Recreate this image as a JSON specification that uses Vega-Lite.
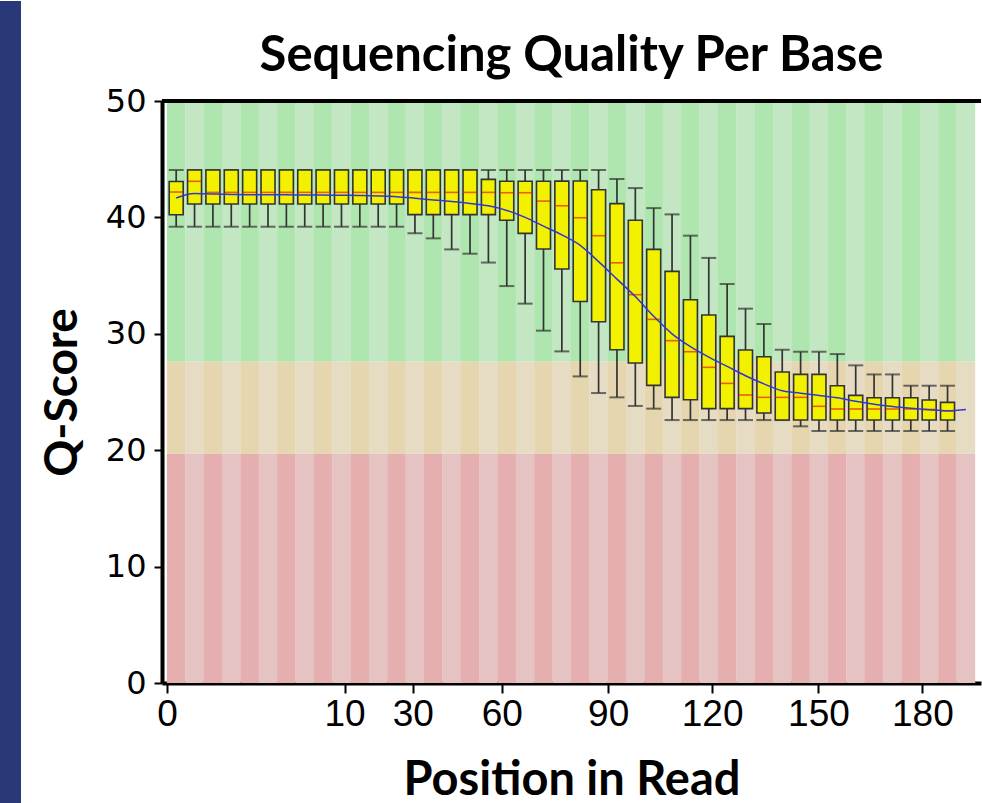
{
  "$schema": "https://vega.github.io/schema/vega-lite/v6.json",
  "padding": 0,
  "background": "white",
  "spacing": 18,
  "config": {"view": {"stroke": null}},
  "datasets": {
    "slots": [
      {"slot":1,"shade":"dark"},{"slot":2,"shade":"light"},{"slot":3,"shade":"dark"},{"slot":4,"shade":"light"},
      {"slot":5,"shade":"dark"},{"slot":6,"shade":"light"},{"slot":7,"shade":"dark"},{"slot":8,"shade":"light"},
      {"slot":9,"shade":"dark"},{"slot":10,"shade":"light"},{"slot":11,"shade":"dark"},{"slot":12,"shade":"light"},
      {"slot":13,"shade":"dark"},{"slot":14,"shade":"light"},{"slot":15,"shade":"dark"},{"slot":16,"shade":"light"},
      {"slot":17,"shade":"dark"},{"slot":18,"shade":"light"},{"slot":19,"shade":"dark"},{"slot":20,"shade":"light"},
      {"slot":21,"shade":"dark"},{"slot":22,"shade":"light"},{"slot":23,"shade":"dark"},{"slot":24,"shade":"light"},
      {"slot":25,"shade":"dark"},{"slot":26,"shade":"light"},{"slot":27,"shade":"dark"},{"slot":28,"shade":"light"},
      {"slot":29,"shade":"dark"},{"slot":30,"shade":"light"},{"slot":31,"shade":"dark"},{"slot":32,"shade":"light"},
      {"slot":33,"shade":"dark"},{"slot":34,"shade":"light"},{"slot":35,"shade":"dark"},{"slot":36,"shade":"light"},
      {"slot":37,"shade":"dark"},{"slot":38,"shade":"light"},{"slot":39,"shade":"dark"},{"slot":40,"shade":"light"},
      {"slot":41,"shade":"dark"},{"slot":42,"shade":"light"},{"slot":43,"shade":"dark"},{"slot":44,"shade":"light"}
    ],
    "boxes": [
      {"slot":1,"lo":39.2,"q1":40.23,"med":42.18,"q3":43.09,"hi":44.07,"mean":41.67},
      {"slot":2,"lo":39.2,"q1":41.15,"med":43.1,"q3":44.07,"hi":44.07,"mean":42.05},
      {"slot":3,"lo":39.2,"q1":41.15,"med":42.15,"q3":44.07,"hi":44.07,"mean":42.0},
      {"slot":4,"lo":39.2,"q1":41.15,"med":42.15,"q3":44.07,"hi":44.07,"mean":41.97},
      {"slot":5,"lo":39.2,"q1":41.15,"med":42.15,"q3":44.07,"hi":44.07,"mean":41.95},
      {"slot":6,"lo":39.2,"q1":41.15,"med":42.15,"q3":44.07,"hi":44.07,"mean":41.95},
      {"slot":7,"lo":39.2,"q1":41.15,"med":42.15,"q3":44.07,"hi":44.07,"mean":41.94},
      {"slot":8,"lo":39.2,"q1":41.15,"med":42.15,"q3":44.07,"hi":44.07,"mean":41.93},
      {"slot":9,"lo":39.2,"q1":41.15,"med":42.15,"q3":44.07,"hi":44.07,"mean":41.92},
      {"slot":10,"lo":39.2,"q1":41.15,"med":42.15,"q3":44.07,"hi":44.07,"mean":41.9},
      {"slot":11,"lo":39.2,"q1":41.15,"med":42.15,"q3":44.07,"hi":44.07,"mean":41.88},
      {"slot":12,"lo":39.2,"q1":41.15,"med":42.15,"q3":44.07,"hi":44.07,"mean":41.84},
      {"slot":13,"lo":39.2,"q1":41.15,"med":42.15,"q3":44.07,"hi":44.07,"mean":41.78},
      {"slot":14,"lo":38.63,"q1":40.24,"med":42.15,"q3":44.07,"hi":44.07,"mean":41.65},
      {"slot":15,"lo":38.2,"q1":40.24,"med":42.15,"q3":44.07,"hi":44.07,"mean":41.5},
      {"slot":16,"lo":37.25,"q1":40.24,"med":42.15,"q3":44.07,"hi":44.07,"mean":41.36},
      {"slot":17,"lo":36.88,"q1":40.24,"med":42.15,"q3":44.07,"hi":44.07,"mean":41.2},
      {"slot":18,"lo":36.12,"q1":40.24,"med":42.15,"q3":43.27,"hi":44.07,"mean":41.0},
      {"slot":19,"lo":34.1,"q1":39.75,"med":42.12,"q3":43.1,"hi":44.07,"mean":40.6},
      {"slot":20,"lo":32.59,"q1":38.63,"med":42.12,"q3":43.1,"hi":44.07,"mean":40.0},
      {"slot":21,"lo":30.27,"q1":37.28,"med":41.4,"q3":43.1,"hi":44.07,"mean":39.25},
      {"slot":22,"lo":28.49,"q1":35.57,"med":41.0,"q3":43.12,"hi":44.07,"mean":38.5},
      {"slot":23,"lo":26.34,"q1":32.78,"med":39.97,"q3":43.13,"hi":44.07,"mean":37.6},
      {"slot":24,"lo":24.91,"q1":31.04,"med":38.43,"q3":42.38,"hi":44.07,"mean":36.2},
      {"slot":25,"lo":24.54,"q1":28.63,"med":36.1,"q3":41.18,"hi":43.3,"mean":34.7},
      {"slot":26,"lo":23.8,"q1":27.49,"med":33.36,"q3":39.75,"hi":42.52,"mean":33.2},
      {"slot":27,"lo":23.57,"q1":25.57,"med":31.24,"q3":37.25,"hi":40.8,"mean":31.5},
      {"slot":28,"lo":22.59,"q1":24.54,"med":29.41,"q3":35.36,"hi":40.26,"mean":30.0},
      {"slot":29,"lo":22.59,"q1":24.34,"med":28.46,"q3":32.93,"hi":38.43,"mean":28.9},
      {"slot":30,"lo":22.59,"q1":23.57,"med":27.12,"q3":31.61,"hi":36.52,"mean":28.0},
      {"slot":31,"lo":22.59,"q1":23.57,"med":25.74,"q3":29.78,"hi":34.28,"mean":27.2},
      {"slot":32,"lo":22.59,"q1":23.57,"med":24.74,"q3":28.61,"hi":32.16,"mean":26.4},
      {"slot":33,"lo":22.59,"q1":23.2,"med":24.54,"q3":28.03,"hi":30.84,"mean":25.7},
      {"slot":34,"lo":22.59,"q1":22.59,"med":24.54,"q3":26.72,"hi":28.63,"mean":25.1},
      {"slot":35,"lo":22.05,"q1":22.59,"med":24.54,"q3":26.51,"hi":28.46,"mean":24.9},
      {"slot":36,"lo":21.65,"q1":22.59,"med":23.77,"q3":26.51,"hi":28.46,"mean":24.7},
      {"slot":37,"lo":21.65,"q1":22.59,"med":23.54,"q3":25.54,"hi":28.26,"mean":24.5},
      {"slot":38,"lo":21.65,"q1":22.59,"med":23.54,"q3":24.71,"hi":27.29,"mean":24.2},
      {"slot":39,"lo":21.65,"q1":22.59,"med":23.54,"q3":24.51,"hi":26.51,"mean":23.95},
      {"slot":40,"lo":21.65,"q1":22.59,"med":23.54,"q3":24.51,"hi":26.51,"mean":23.75},
      {"slot":41,"lo":21.65,"q1":22.59,"med":23.54,"q3":24.51,"hi":25.54,"mean":23.6},
      {"slot":42,"lo":21.65,"q1":22.59,"med":23.5,"q3":24.31,"hi":25.54,"mean":23.48},
      {"slot":43,"lo":21.65,"q1":22.59,"med":23.37,"q3":24.11,"hi":25.54,"mean":23.39},
      {"slot":44,"mean":23.5}
    ]
  },
  "hconcat": [
    {
      "width": 21,
      "height": 703,
      "data": {"values": [{}]},
      "mark": {"type": "rect", "color": "#283878"},
      "encoding": {
        "x": {"datum": 0, "type": "quantitative", "scale": {"domain": [0, 1], "nice": false}, "axis": null},
        "x2": {"datum": 1},
        "y": {"datum": 0, "type": "quantitative", "scale": {"domain": [0, 703], "nice": false}, "axis": null},
        "y2": {"datum": 803}
      }
    },
    {
      "width": 819,
      "height": 582,
      "title": {
        "text": ["", "Sequencing Quality Per Base"],
        "font": "Lato",
        "fontSize": 49,
        "fontWeight": "bold",
        "color": "black",
        "anchor": "middle",
        "lineHeight": 32,
        "offset": 4
      },
      "layer": [
        {
          "data": {"name": "slots"},
          "mark": {"type": "bar", "width": 18.6},
          "encoding": {
            "x": {
              "field": "slot", "type": "quantitative",
              "scale": {"domain": [0.5, 44.55], "nice": false, "zero": false},
              "axis": {
                "title": "Position in Read",
                "values": [0.5, 10.17, 13.88, 18.73, 24.52, 30.18, 35.97, 41.63],
                "labelExpr": "datum.value < 1 ? '0' : datum.value < 11 ? '10' : datum.value < 15 ? '30' : datum.value < 20 ? '60' : datum.value < 26 ? '90' : datum.value < 32 ? '120' : datum.value < 38 ? '150' : '180'",
                "grid": false,
                "domainColor": "black", "domainWidth": 4,
                "tickColor": "black", "tickWidth": 2, "tickSize": 10,
                "labelFont": "Liberation Sans",
                "labelFontSize": 37, "labelColor": "black", "labelPadding": 3,
                "labelFlush": false, "labelOverlap": false,
                "titleFont": "Lato", "titleFontSize": 47, "titleFontWeight": "bold",
                "titleColor": "black", "titlePadding": 25
              }
            },
            "y": {
              "datum": 27.6, "type": "quantitative",
              "scale": {"domain": [0, 50], "nice": false, "zero": true},
              "axis": {
                "title": "Q-Score",
                "values": [0, 10, 20, 30, 40, 50],
                "grid": false,
                "domainColor": "black", "domainWidth": 4,
                "tickColor": "black", "tickWidth": 2, "tickSize": 8,
                "labelFont": "DejaVu Sans", "labelFontSize": 32, "labelColor": "black",
                "labelPadding": 8, "labelFlush": false,
                "titleFont": "Lato", "titleFontSize": 46, "titleFontWeight": "bold",
                "titleColor": "black", "titlePadding": 19
              }
            },
            "y2": {"datum": 50},
            "color": {"condition": {"test": "datum.shade == 'dark'", "value": "#afe6af"}, "value": "#c3e6c3"}
          }
        },
        {
          "data": {"name": "slots"},
          "mark": {"type": "bar", "width": 18.6},
          "encoding": {
            "x": {"field": "slot", "type": "quantitative"},
            "y": {"datum": 19.7, "type": "quantitative"},
            "y2": {"datum": 27.6},
            "color": {"condition": {"test": "datum.shade == 'dark'", "value": "#e6d6af"}, "value": "#e6dcc4"}
          }
        },
        {
          "data": {"name": "slots"},
          "mark": {"type": "bar", "width": 18.6},
          "encoding": {
            "x": {"field": "slot", "type": "quantitative"},
            "y": {"datum": 0, "type": "quantitative"},
            "y2": {"datum": 19.7},
            "color": {"condition": {"test": "datum.shade == 'dark'", "value": "#e6afaf"}, "value": "#e6c3c3"}
          }
        },
        {
          "data": {"name": "boxes"},
          "transform": [{"filter": "isValid(datum.q1)"}],
          "mark": {"type": "rule", "color": "#333333", "strokeWidth": 1.7},
          "encoding": {
            "x": {"field": "slot", "type": "quantitative"},
            "y": {"field": "lo", "type": "quantitative"},
            "y2": {"field": "hi"}
          }
        },
        {
          "data": {"name": "boxes"},
          "transform": [{"filter": "isValid(datum.q1)"}],
          "mark": {"type": "tick", "orient": "horizontal", "color": "#333333", "size": 15, "thickness": 2},
          "encoding": {
            "x": {"field": "slot", "type": "quantitative"},
            "y": {"field": "lo", "type": "quantitative"}
          }
        },
        {
          "data": {"name": "boxes"},
          "transform": [{"filter": "isValid(datum.q1)"}],
          "mark": {"type": "tick", "orient": "horizontal", "color": "#333333", "size": 15, "thickness": 2},
          "encoding": {
            "x": {"field": "slot", "type": "quantitative"},
            "y": {"field": "hi", "type": "quantitative"}
          }
        },
        {
          "data": {"name": "boxes"},
          "transform": [{"filter": "isValid(datum.q1)"}],
          "mark": {"type": "bar", "width": 14, "fill": "#f2f200", "stroke": "#333333", "strokeWidth": 1.6},
          "encoding": {
            "x": {"field": "slot", "type": "quantitative"},
            "y": {"field": "q1", "type": "quantitative"},
            "y2": {"field": "q3"}
          }
        },
        {
          "data": {"name": "boxes"},
          "transform": [{"filter": "isValid(datum.q1)"}],
          "mark": {"type": "tick", "orient": "horizontal", "color": "#e8200f", "size": 13, "thickness": 1.6},
          "encoding": {
            "x": {"field": "slot", "type": "quantitative"},
            "y": {"field": "med", "type": "quantitative"}
          }
        },
        {
          "data": {"name": "boxes"},
          "mark": {"type": "line", "color": "#3535d0", "strokeWidth": 1.5, "interpolate": "monotone"},
          "encoding": {
            "x": {"field": "slot", "type": "quantitative"},
            "y": {"field": "mean", "type": "quantitative"}
          }
        },
        {
          "data": {"values": [{}]},
          "mark": {"type": "rule", "color": "black", "strokeWidth": 4},
          "encoding": {"y": {"datum": 50, "type": "quantitative"}}
        }
      ]
    }
  ]
}
